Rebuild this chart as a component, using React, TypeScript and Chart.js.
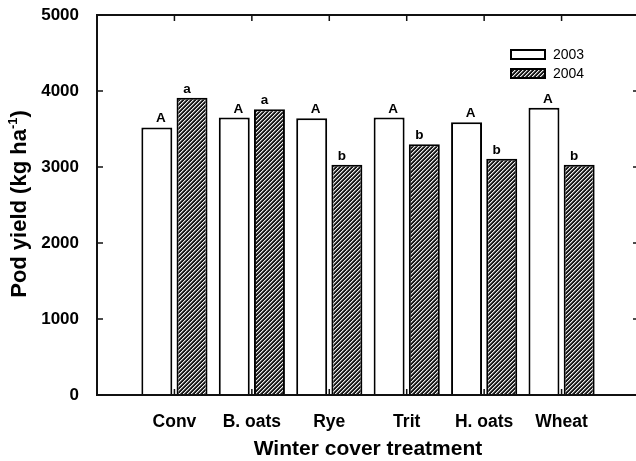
import React, { useEffect, useRef } from 'react';
import { Chart, registerables } from 'chart.js';

Chart.register(...registerables);

const categories = ['Conv', 'B. oats', 'Rye', 'Trit', 'H. oats', 'Wheat'];
const yield2003 = [3520, 3650, 3640, 3650, 3590, 3780];
const yield2004 = [3910, 3760, 3030, 3300, 3110, 3030];
const letters2003 = ['A', 'A', 'A', 'A', 'A', 'A'];
const letters2004 = ['a', 'a', 'b', 'b', 'b', 'b'];
const seriesNames = ['2003', '2004'];
const yTicks = [0, 1000, 2000, 3000, 4000, 5000];

const FONT = '"Liberation Sans", Arial, Helvetica, sans-serif';

function makeHatch(): CanvasPattern | string {
  const c = document.createElement('canvas');
  c.width = 4;
  c.height = 4;
  const ctx = c.getContext('2d');
  if (!ctx) return '#444';
  const img = ctx.createImageData(4, 4);
  for (let y = 0; y < 4; y++) {
    for (let x = 0; x < 4; x++) {
      const k = (x + y) % 4;
      const v = k === 0 ? 235 : k === 1 ? 120 : 25;
      const o = (y * 4 + x) * 4;
      img.data[o] = v;
      img.data[o + 1] = v;
      img.data[o + 2] = v;
      img.data[o + 3] = 255;
    }
  }
  ctx.putImageData(img, 0, 0);
  const p = ctx.createPattern(c, 'repeat');
  return p || '#444';
}

export default function App() {
  const ref = useRef<HTMLCanvasElement | null>(null);

  useEffect(() => {
    if (!ref.current) return;
    const hatch = makeHatch();
    const labels = ['', ...categories, ''];
    const fills = ['#ffffff', hatch];
    const letterSets = [letters2003, letters2004];

    const decor = {
      id: 'decor',
      afterDatasetsDraw(chart: any) {
        const ctx = chart.ctx as CanvasRenderingContext2D;
        const { left, right, top, bottom } = chart.chartArea;
        const xs = chart.scales.x;
        const ys = chart.scales.y;
        ctx.save();
        // frame
        ctx.strokeStyle = '#111';
        ctx.lineWidth = 2;
        ctx.strokeRect(left, top, right - left, bottom - top);
        // ticks
        ctx.lineWidth = 1.5;
        ctx.beginPath();
        yTicks.forEach((v) => {
          const py = ys.getPixelForValue(v);
          ctx.moveTo(left, py);
          ctx.lineTo(left + 6, py);
          ctx.moveTo(right, py);
          ctx.lineTo(right - 6, py);
        });
        categories.forEach((_, i) => {
          const px = xs.getPixelForValue(i + 1);
          ctx.moveTo(px, top);
          ctx.lineTo(px, top + 6);
          ctx.moveTo(px, bottom);
          ctx.lineTo(px, bottom - 6);
        });
        ctx.stroke();
        // letters above bars
        ctx.fillStyle = '#000';
        ctx.font = `bold 13.5px ${FONT}`;
        ctx.textAlign = 'center';
        ctx.textBaseline = 'alphabetic';
        [0, 1].forEach((d) => {
          const meta = chart.getDatasetMeta(d);
          categories.forEach((_, i) => {
            const el = meta.data[i + 1];
            if (!el) return;
            const dx = d === 0 ? 4 : -5;
            ctx.fillText(letterSets[d][i], el.x + dx, el.y - 5);
          });
        });
        // legend
        const lx = 510;
        const lys = [49, 68];
        seriesNames.forEach((name, d) => {
          const ly = lys[d];
          ctx.fillStyle = fills[d] as any;
          ctx.fillRect(lx, ly, 36, 11);
          ctx.strokeStyle = '#000';
          ctx.lineWidth = 2;
          ctx.strokeRect(lx + 1, ly + 1, 34, 9);
          ctx.fillStyle = '#000';
          ctx.font = `14px ${FONT}`;
          ctx.textAlign = 'left';
          ctx.textBaseline = 'middle';
          ctx.fillText(name, 553, ly + 6);
        });
        // y title with superscript
        ctx.translate(25.5, 204);
        ctx.rotate(-Math.PI / 2);
        const main = 'Pod yield (kg ha';
        const sup = '-1';
        const end = ')';
        ctx.textAlign = 'left';
        ctx.textBaseline = 'alphabetic';
        ctx.font = `bold 22px ${FONT}`;
        const wMain = ctx.measureText(main).width;
        const wEnd = ctx.measureText(end).width;
        ctx.font = `bold 13px ${FONT}`;
        const wSup = ctx.measureText(sup).width;
        let x = -(wMain + wSup + wEnd) / 2;
        ctx.font = `bold 22px ${FONT}`;
        ctx.fillText(main, x, 0);
        x += wMain;
        ctx.font = `bold 13px ${FONT}`;
        ctx.fillText(sup, x, -9);
        x += wSup;
        ctx.font = `bold 22px ${FONT}`;
        ctx.fillText(end, x, 0);
        ctx.restore();
      },
    };

    const chart = new Chart(ref.current, {
      type: 'bar',
      data: {
        labels,
        datasets: [
          {
            label: seriesNames[0],
            data: [null, ...yield2003, null],
            backgroundColor: '#ffffff',
            borderColor: '#000',
            borderWidth: 2,
            categoryPercentage: 0.909,
            barPercentage: 0.88,
          },
          {
            label: seriesNames[1],
            data: [null, ...yield2004, null],
            backgroundColor: hatch as any,
            borderColor: '#000',
            borderWidth: 2,
            categoryPercentage: 0.909,
            barPercentage: 0.88,
          },
        ],
      },
      options: {
        responsive: false,
        animation: false,
        layout: { padding: { top: 15, right: 3, left: 0, bottom: 0 } },
        plugins: {
          legend: { display: false },
          tooltip: { enabled: false },
        },
        scales: {
          x: {
            type: 'category',
            offset: false,
            grid: { display: false },
            border: { display: false },
            ticks: {
              autoSkip: false,
              maxRotation: 0,
              minRotation: 0,
              padding: 8.5,
              color: '#000',
              font: { family: FONT, size: 17.5, weight: 'bold' },
            },
            title: {
              display: true,
              text: 'Winter cover treatment',
              color: '#000',
              font: { family: FONT, size: 21, weight: 'bold', lineHeight: 1.1 },
              padding: { top: 0, bottom: 0 },
            },
            afterFit: (s: any) => {
              s.height = 66;
              s.paddingLeft = 0;
              s.paddingRight = 0;
            },
          },
          y: {
            min: 0,
            max: 5000,
            grid: { display: false },
            border: { display: false },
            ticks: {
              padding: 10,
              color: '#000',
              font: { family: FONT, size: 17, weight: 'bold' },
              callback: (v: any) => String(v),
            },
            afterBuildTicks: (s: any) => {
              s.ticks = yTicks.map((v) => ({ value: v }));
            },
            afterFit: (s: any) => {
              s.width = 97;
              s.paddingTop = 0;
              s.paddingBottom = 0;
            },
          },
        },
      },
      plugins: [decor],
    } as any);

    return () => chart.destroy();
  }, []);

  return (
    <div
      style={{
        position: 'fixed',
        left: 0,
        top: 0,
        width: 636,
        height: 461,
        overflow: 'hidden',
        background: '#fff',
      }}
    >
      <canvas ref={ref} width={642} height={461} style={{ width: 642, height: 461, display: 'block' }} />
    </div>
  );
}
